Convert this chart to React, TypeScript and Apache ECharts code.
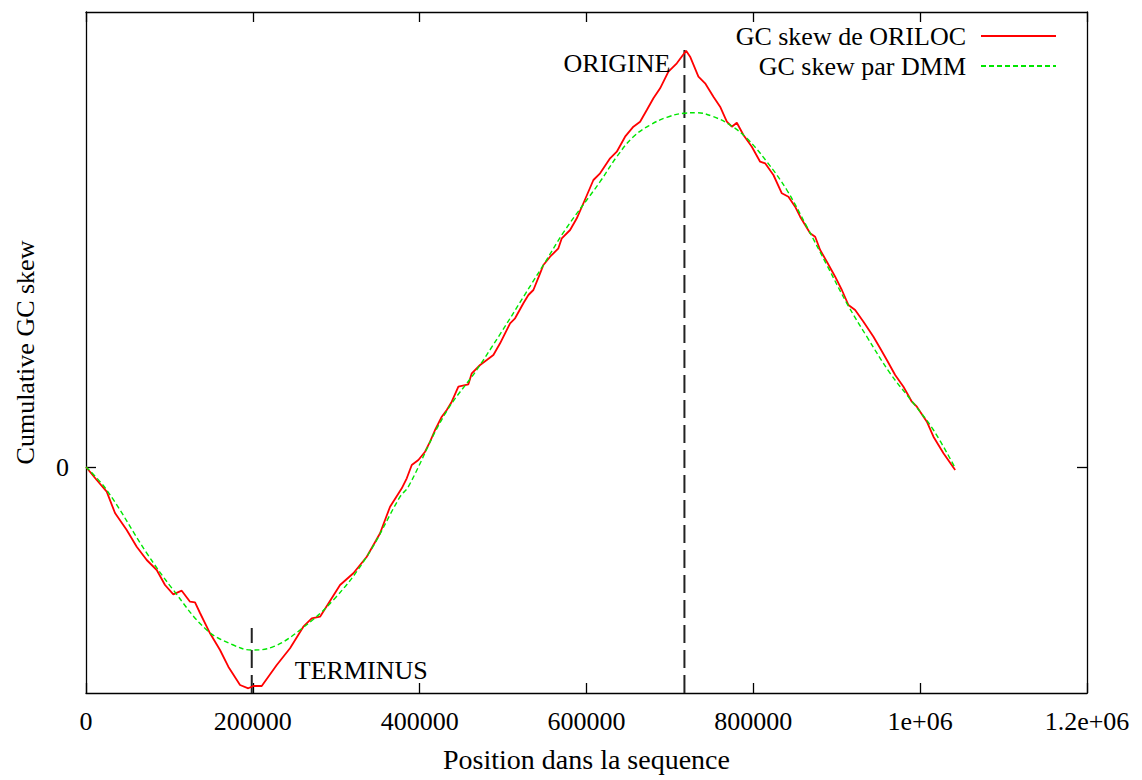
import React, { useEffect, useRef } from "react";
import * as echarts from "echarts";

// Red: cumulative GC skew from ORILOC  [position, skew]
const orilocX = [0, 12830, 24820, 34770, 48800, 60790, 72780, 84770, 94720, 104680, 114750, 124700, 130700, 136690, 148680, 160670, 170620, 184650, 194600, 200600, 210670, 228660, 244600, 260550, 270620, 280580, 304560, 320500, 336570, 352520, 364510, 378540, 384530, 390530, 398440, 406470, 412470, 418460, 426500, 432500, 438490, 446400, 458400, 462470, 472420, 480450, 488370, 496400, 502390, 508390, 514380, 524330, 530330, 536330, 544360, 548330, 556360, 566310, 570380, 580330, 588360, 598000, 608270, 616290, 628280, 636310, 646260, 656220, 664250, 672290, 680210, 688250, 698200, 708270, 719420, 724220, 734170, 742200, 752160, 760190, 768220, 774220, 780210, 788120, 798190, 808140, 814140, 824100, 834170, 842080, 850110, 856110, 862110, 868110, 874110, 880110, 888140, 898090, 906120, 914030, 922060, 932010, 944000, 952040, 960070, 970020, 979970, 990040, 996030, 1008020, 1015940, 1027930, 1041960];
const orilocY = [0, -260, -494, -920, -1260, -1594, -1860, -2060, -2360, -2546, -2474, -2694, -2706, -2920, -3326, -3660, -3994, -4360, -4426, -4380, -4380, -3960, -3626, -3194, -3026, -2994, -2360, -2126, -1794, -1326, -794, -426, -226, 40, 140, 306, 506, 740, 1006, 1140, 1306, 1606, 1654, 1874, 2040, 2140, 2240, 2474, 2674, 2874, 2974, 3274, 3440, 3540, 3874, 4040, 4206, 4374, 4574, 4740, 4974, 5340, 5740, 5874, 6174, 6306, 6606, 6806, 6906, 7140, 7374, 7574, 7906, 8074, 8326, 8206, 7806, 7674, 7406, 7206, 6906, 6806, 6886, 6640, 6406, 6106, 6074, 5840, 5474, 5406, 5206, 5006, 4840, 4674, 4606, 4340, 4106, 3806, 3540, 3240, 3140, 2906, 2606, 2374, 2140, 1840, 1606, 1306, 1206, 906, 606, 274, -60];

// Green: cumulative GC skew by DMM
const dmmX = [0, 24820, 72780, 104680, 144720, 176620, 198680, 224580, 256590, 296520, 336570, 376500, 386450, 430000, 472420, 548330, 574350, 616290, 636310, 656220, 676250, 696270, 716210, 732270, 752160, 772180, 792200, 816170, 840150, 864140, 888140, 912120, 936100, 964030, 992010, 1015940, 1041960];
const dmmY = [0, -460, -1720, -2460, -3260, -3560, -3660, -3594, -3260, -2660, -1794, -594, -394, 1050, 2040, 4040, 4740, 5706, 6206, 6606, 6840, 6994, 7074, 7086, 7006, 6840, 6574, 6106, 5540, 4806, 4040, 3274, 2606, 1874, 1274, 740, -20];

// Origin / terminus markers
const origineX = 717400;
const origineTop = 8440;
const terminusX = 198700;
const terminusTop = -3220;

const xTicks = [0, 200000, 400000, 600000, 800000, 1000000, 1200000];
const xTickLabels = ["0", "200000", "400000", "600000", "800000", "1e+06", "1.2e+06"];
const yTickValues = [0];
const yTickLabels = ["0"];

const X_MIN = 0;
const X_MAX = 1200000;
const Y_MIN = -4520;
const Y_MAX = 9100;

const FONT = "Liberation Serif";

export default function App() {
  const ref = useRef<HTMLDivElement>(null);
  useEffect(() => {
    if (!ref.current) return;
    const chart = echarts.init(ref.current, null, { renderer: "svg" });
    const redData = orilocX.map((x, i) => [x, orilocY[i]]);
    const greenData = dmmX.map((x, i) => [x, dmmY[i]]);
    const axisLine = { show: true, onZero: false, lineStyle: { color: "#000", width: 1.3 } };
    const tick = { show: true, inside: true, length: 10, lineStyle: { color: "#000", width: 1.3 } };
    const textStyle = { fontFamily: FONT, fontSize: 26, color: "#000" };
    const legendCommon = {
      right: 80,
      align: "right",
      orient: "horizontal",
      itemWidth: 75,
      itemHeight: 14,
      itemStyle: { opacity: 0 },
      textStyle: { ...textStyle, padding: [0, 10, 0, 0] },
      selectedMode: false,
    };
    chart.setOption({
      animation: false,
      backgroundColor: "#fff",
      grid: { left: 86, right: 55, top: 12, bottom: 87, containLabel: false },
      legend: [
        { ...legendCommon, data: [{ name: "GC skew de ORILOC" }], top: 18 },
        { ...legendCommon, data: [{ name: "GC skew par DMM" }], top: 48 },
      ],
      xAxis: [
        {
          type: "value",
          min: X_MIN,
          max: X_MAX,
          interval: 200000,
          position: "bottom",
          axisLine,
          axisTick: tick,
          splitLine: { show: false },
          axisLabel: {
            ...textStyle,
            margin: 15,
            formatter: (v: number) => {
              const i = xTicks.indexOf(v);
              return i >= 0 ? xTickLabels[i] : "";
            },
          },
          name: "Position dans la sequence",
          nameLocation: "middle",
          nameGap: 52,
          nameTextStyle: { ...textStyle, fontSize: 28 },
        },
        {
          type: "value",
          min: X_MIN,
          max: X_MAX,
          interval: 200000,
          position: "top",
          axisLine,
          axisTick: tick,
          splitLine: { show: false },
          axisLabel: { show: false },
        },
      ],
      yAxis: [
        {
          type: "value",
          min: Y_MIN,
          max: Y_MAX,
          position: "left",
          axisLine,
          axisTick: { ...tick, customValues: yTickValues },
          splitLine: { show: false },
          axisLabel: {
            ...textStyle,
            margin: 17,
            customValues: yTickValues,
            formatter: (v: number) => {
              const i = yTickValues.indexOf(v);
              return i >= 0 ? yTickLabels[i] : "";
            },
          },
          name: "Cumulative GC skew",
          nameLocation: "middle",
          nameGap: 48,
          nameTextStyle: textStyle,
        },
        {
          type: "value",
          min: Y_MIN,
          max: Y_MAX,
          position: "right",
          axisLine,
          axisTick: { ...tick, customValues: yTickValues },
          splitLine: { show: false },
          axisLabel: { show: false },
        },
      ],
      series: [
        {
          name: "GC skew de ORILOC",
          type: "line",
          data: redData,
          symbol: "none",
          lineStyle: { color: "#ff0000", width: 1.8 },
          itemStyle: { color: "#ff0000" },
          z: 3,
        },
        {
          name: "GC skew par DMM",
          type: "line",
          data: greenData,
          symbol: "none",
          smooth: 0.4,
          lineStyle: { color: "#00e600", width: 1.4, type: [5, 3] },
          itemStyle: { color: "#00e600" },
          z: 4,
        },
        {
          name: "origine",
          type: "line",
          data: [
            [origineX, Y_MIN],
            [origineX, origineTop],
          ],
          symbol: "none",
          lineStyle: { color: "#222", width: 2, type: [18, 7] },
          z: 2,
          markPoint: {
            symbol: "circle",
            symbolSize: 0,
            data: [{ coord: [origineX, 8080] }],
            label: { show: true, position: "left", distance: 14, formatter: "ORIGINE", ...textStyle },
          },
        },
        {
          name: "terminus",
          type: "line",
          data: [
            [terminusX, Y_MIN],
            [terminusX, terminusTop],
          ],
          symbol: "none",
          lineStyle: { color: "#222", width: 2, type: [18, 7] },
          z: 2,
          markPoint: {
            symbol: "circle",
            symbolSize: 0,
            data: [{ coord: [terminusX, -4060] }],
            label: { show: true, position: "right", distance: 43, formatter: "TERMINUS", ...textStyle },
          },
        },
      ],
    });
    return () => chart.dispose();
  }, []);
  return (
    <div
      ref={ref}
      style={{ position: "absolute", left: 0, top: 0, width: 1142, height: 780, background: "#fff" }}
    />
  );
}
